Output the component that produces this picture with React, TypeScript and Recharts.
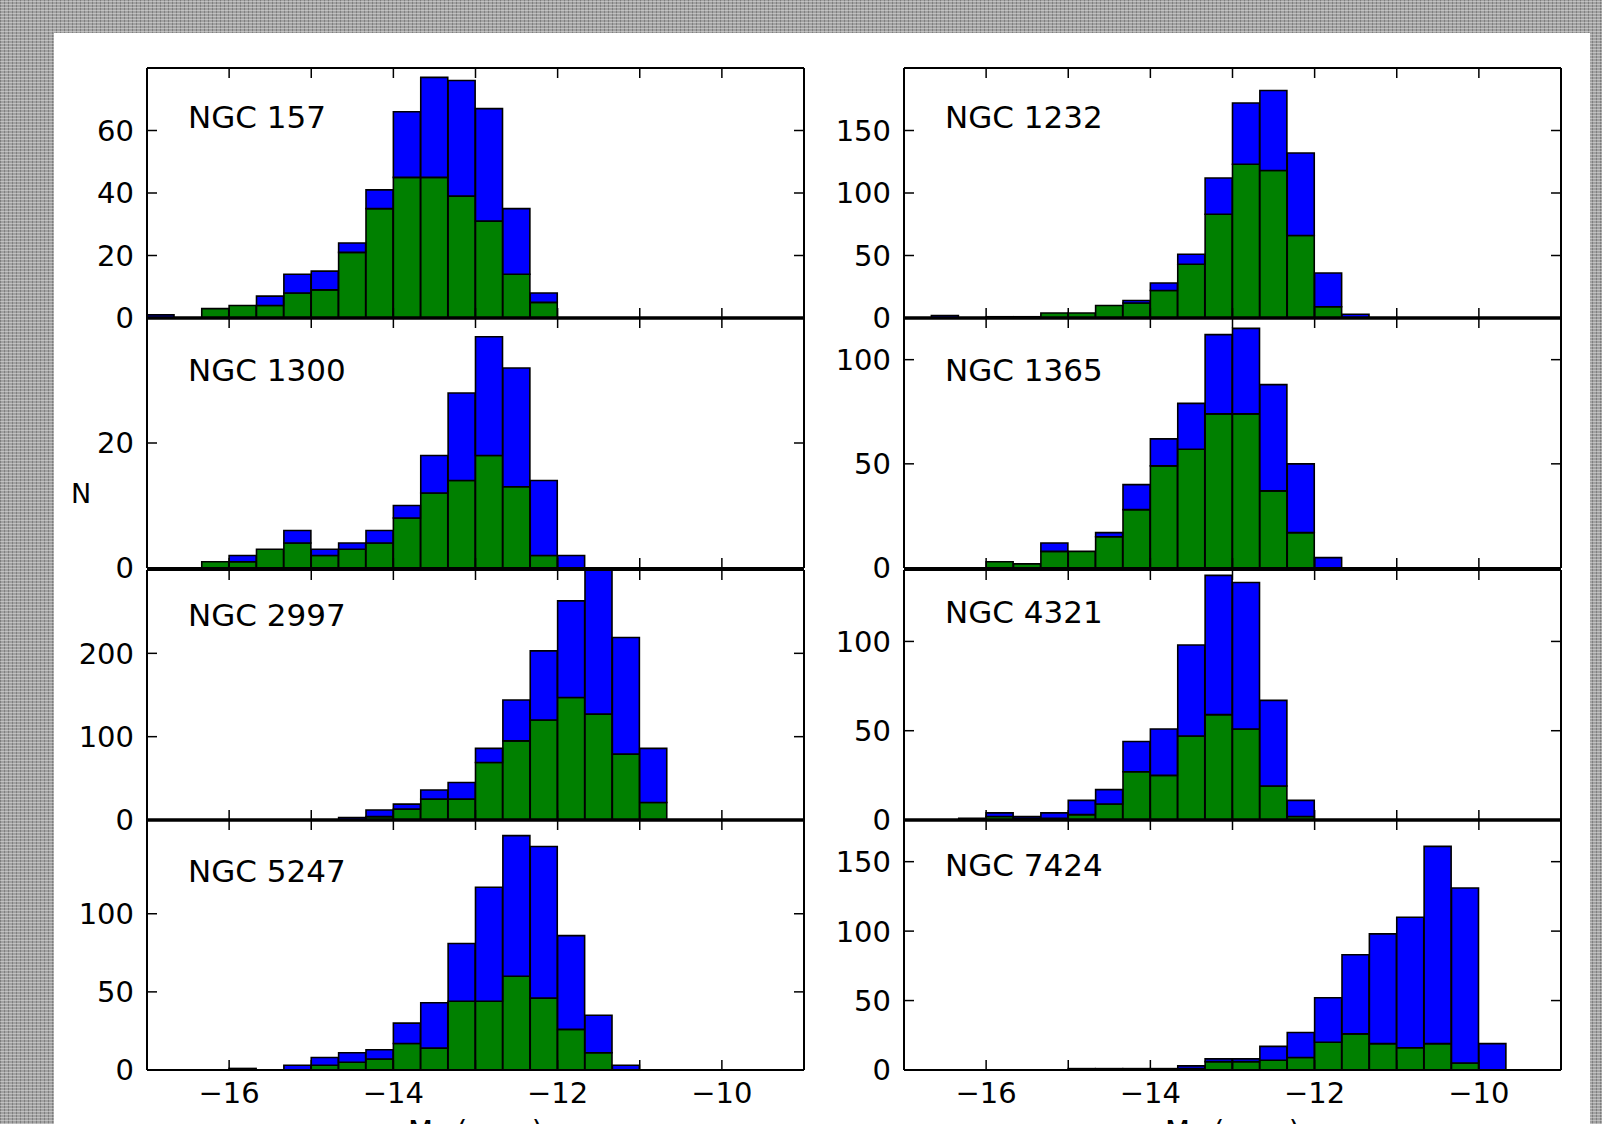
import { BarChart, Bar, XAxis, YAxis } from 'recharts';

// bin lower edges, 1/3 mag bins from -17 to -9
const BIN_LABELS = [
  '-17.00', '-16.67', '-16.33', '-16.00', '-15.67', '-15.33', '-15.00', '-14.67',
  '-14.33', '-14.00', '-13.67', '-13.33', '-13.00', '-12.67', '-12.33', '-12.00',
  '-11.67', '-11.33', '-11.00', '-10.67', '-10.33', '-10.00', '-9.67', '-9.33',
];

const X_LABELED = [-16, -14, -12, -10];

// blue = all clusters, green = subset
const NGC157_ALL = [1, 0, 3, 4, 7, 14, 15, 24, 41, 66, 77, 76, 67, 35, 8, 0, 0, 0, 0, 0, 0, 0, 0, 0];
const NGC157_SUB = [0, 0, 3, 4, 4, 8, 9, 21, 35, 45, 45, 39, 31, 14, 5, 0, 0, 0, 0, 0, 0, 0, 0, 0];

const NGC1232_ALL = [0, 2, 0, 1, 1, 4, 4, 10, 14, 28, 51, 112, 172, 182, 132, 36, 3, 0, 0, 0, 0, 0, 0, 0];
const NGC1232_SUB = [0, 0, 0, 1, 1, 4, 4, 10, 12, 22, 43, 83, 123, 118, 66, 9, 0, 0, 0, 0, 0, 0, 0, 0];

const NGC1300_ALL = [0, 0, 1, 2, 3, 6, 3, 4, 6, 10, 18, 28, 37, 32, 14, 2, 0, 0, 0, 0, 0, 0, 0, 0];
const NGC1300_SUB = [0, 0, 1, 1, 3, 4, 2, 3, 4, 8, 12, 14, 18, 13, 2, 0, 0, 0, 0, 0, 0, 0, 0, 0];

const NGC1365_ALL = [0, 0, 0, 3, 2, 12, 8, 17, 40, 62, 79, 112, 115, 88, 50, 5, 0, 0, 0, 0, 0, 0, 0, 0];
const NGC1365_SUB = [0, 0, 0, 3, 2, 8, 8, 15, 28, 49, 57, 74, 74, 37, 17, 0, 0, 0, 0, 0, 0, 0, 0, 0];

const NGC2997_ALL = [0, 0, 0, 0, 0, 0, 0, 3, 12, 19, 36, 45, 86, 144, 203, 263, 300, 219, 86, 0, 0, 0, 0, 0];
const NGC2997_SUB = [0, 0, 0, 0, 0, 0, 0, 0, 4, 13, 25, 25, 69, 95, 120, 147, 127, 79, 21, 0, 0, 0, 0, 0];

const NGC4321_ALL = [0, 0, 1, 4, 2, 4, 11, 17, 44, 51, 98, 137, 133, 67, 11, 0, 0, 0, 0, 0, 0, 0, 0, 0];
const NGC4321_SUB = [0, 0, 1, 2, 1, 1, 3, 9, 27, 25, 47, 59, 51, 19, 2, 0, 0, 0, 0, 0, 0, 0, 0, 0];

const NGC5247_ALL = [0, 0, 0, 1, 0, 3, 8, 11, 13, 30, 43, 81, 117, 150, 143, 86, 35, 3, 0, 0, 0, 0, 0, 0];
const NGC5247_SUB = [0, 0, 0, 0, 0, 0, 3, 5, 7, 17, 14, 44, 44, 60, 46, 26, 11, 0, 0, 0, 0, 0, 0, 0];

const NGC7424_ALL = [0, 0, 0, 0, 0, 0, 1, 1, 1, 1, 3, 8, 8, 17, 27, 52, 83, 98, 110, 161, 131, 19, 0, 0];
const NGC7424_SUB = [0, 0, 0, 0, 0, 0, 0, 0, 0, 0, 1, 6, 6, 7, 9, 20, 26, 19, 16, 19, 5, 0, 0, 0];

const PANELS = [
  { name: 'NGC 157', all: NGC157_ALL, sub: NGC157_SUB, yMax: 80, yTicks: [0, 20, 40, 60], col: 0, row: 0, labelY: 128 },
  { name: 'NGC 1232', all: NGC1232_ALL, sub: NGC1232_SUB, yMax: 200, yTicks: [0, 50, 100, 150], col: 1, row: 0, labelY: 128 },
  { name: 'NGC 1300', all: NGC1300_ALL, sub: NGC1300_SUB, yMax: 40, yTicks: [0, 20], col: 0, row: 1, labelY: 381 },
  { name: 'NGC 1365', all: NGC1365_ALL, sub: NGC1365_SUB, yMax: 120, yTicks: [0, 50, 100], col: 1, row: 1, labelY: 381 },
  { name: 'NGC 2997', all: NGC2997_ALL, sub: NGC2997_SUB, yMax: 300, yTicks: [0, 100, 200], col: 0, row: 2, labelY: 626 },
  { name: 'NGC 4321', all: NGC4321_ALL, sub: NGC4321_SUB, yMax: 140, yTicks: [0, 50, 100], col: 1, row: 2, labelY: 623 },
  { name: 'NGC 5247', all: NGC5247_ALL, sub: NGC5247_SUB, yMax: 160, yTicks: [0, 50, 100], col: 0, row: 3, labelY: 882 },
  { name: 'NGC 7424', all: NGC7424_ALL, sub: NGC7424_SUB, yMax: 180, yTicks: [0, 50, 100, 150], col: 1, row: 3, labelY: 876 },
];

const COL_X = [147, 904];
const ROW_Y = [68, 318, 570, 820];
const PLOT_W = 657;
const PLOT_H = 250;
const BIN_W = PLOT_W / BIN_LABELS.length;
// axis areas around the plot (axes own this space, chart margin is 0)
const AX_L = 110;
const AX_R = 10;
const AX_T = 10;
const AX_B = 50;

const FONT = '"DejaVu Sans", sans-serif';
const TICK_LEN = 10;

const fmt = (v: number) => (v < 0 ? '\u2212' + Math.abs(v) : String(v));

function LeftTick({ x, y, payload }: any) {
  return (
    <g>
      <line x1={x} y1={y} x2={x + TICK_LEN} y2={y} stroke="#000" strokeWidth={1.5} />
      <text x={x - 13} y={y} dy="0.36em" textAnchor="end" fontSize={29} fontFamily={FONT} fill="#000">
        {payload.value}
      </text>
    </g>
  );
}

function RightTick({ x, y }: any) {
  return <line x1={x - TICK_LEN} y1={y} x2={x} y2={y} stroke="#000" strokeWidth={1.5} />;
}

// ticks sit on the lower edge of every bin that starts at a whole magnitude
function makeBottomTick(showLabels: boolean) {
  return ({ x, y, payload }: any) => {
    const edge = Number(payload.value);
    if (Math.abs(edge - Math.round(edge)) > 0.01) return <g />;
    const mag = Math.round(edge);
    const xe = x - BIN_W / 2;
    return (
      <g>
        <line x1={xe} y1={y - TICK_LEN} x2={xe} y2={y} stroke="#000" strokeWidth={1.5} />
        <line x1={xe} y1={y - PLOT_H} x2={xe} y2={y - PLOT_H + TICK_LEN} stroke="#000" strokeWidth={1.5} />
        {showLabels && X_LABELED.includes(mag) ? (
          <text x={xe} y={y + 33} textAnchor="middle" fontSize={29} fontFamily={FONT} fill="#000">
            {fmt(mag)}
          </text>
        ) : null}
      </g>
    );
  };
}

function Panel({ p }: { p: (typeof PANELS)[number] }) {
  const rows = BIN_LABELS.map((bin, i) => ({ bin, green: p.sub[i], extra: p.all[i] - p.sub[i] }));
  const frame = { stroke: '#000', strokeWidth: 2 };
  // rows 1 and 3 share their bottom spine with the panel below, which reads as a heavier line
  const bottomFrame = { stroke: '#000', strokeWidth: p.row === 0 || p.row === 2 ? 3.5 : 2 };
  return (
    <div style={{ position: 'absolute', left: COL_X[p.col] - AX_L, top: ROW_Y[p.row] - AX_T }}>
      <BarChart
        width={PLOT_W + AX_L + AX_R}
        height={PLOT_H + AX_T + AX_B}
        data={rows}
        margin={{ top: 0, right: 0, bottom: 0, left: 0 }}
        barCategoryGap={0}
        barGap={0}
      >
        <XAxis
          xAxisId="cat"
          dataKey="bin"
          height={AX_B}
          interval={0}
          tickSize={0}
          tickMargin={0}
          tickLine={false}
          axisLine={bottomFrame}
          tick={makeBottomTick(p.row === 3)}
        />
        <XAxis
          xAxisId="top"
          orientation="top"
          type="number"
          domain={[-17, -9]}
          allowDataOverflow
          height={AX_T}
          tick={false}
          tickLine={false}
          axisLine={frame}
        />
        <YAxis
          yAxisId="left"
          type="number"
          domain={[0, p.yMax]}
          ticks={p.yTicks}
          allowDataOverflow
          width={AX_L}
          interval={0}
          tickSize={0}
          tickMargin={0}
          tickLine={false}
          axisLine={frame}
          tick={<LeftTick />}
        />
        <YAxis
          yAxisId="right"
          orientation="right"
          type="number"
          domain={[0, p.yMax]}
          ticks={p.yTicks}
          allowDataOverflow
          width={AX_R}
          interval={0}
          tickSize={0}
          tickMargin={0}
          tickLine={false}
          axisLine={frame}
          tick={<RightTick />}
        />
        <Bar
          xAxisId="cat"
          yAxisId="left"
          dataKey="green"
          stackId="s"
          fill="#008000"
          stroke="#000"
          strokeWidth={1.6}
          isAnimationActive={false}
        />
        <Bar
          xAxisId="cat"
          yAxisId="left"
          dataKey="extra"
          stackId="s"
          fill="#0000ff"
          stroke="#000"
          strokeWidth={1.6}
          isAnimationActive={false}
        />
      </BarChart>
    </div>
  );
}

export default function App() {
  return (
    <div
      style={{
        position: 'fixed',
        left: 0,
        top: 0,
        width: 1602,
        height: 1124,
        overflow: 'hidden',
        backgroundColor: '#a2a2a2',
        backgroundImage:
          'repeating-linear-gradient(0deg, rgba(255,255,255,0.35) 0px, rgba(255,255,255,0.35) 1px, transparent 1px, transparent 3px), repeating-linear-gradient(90deg, rgba(60,60,60,0.35) 0px, rgba(60,60,60,0.35) 1px, transparent 1px, transparent 4px)',
        fontFamily: FONT,
      }}
    >
      <div style={{ position: 'absolute', left: 54, top: 33, width: 1536, height: 1100, background: '#fff' }} />
      {PANELS.map((p) => (
        <Panel key={p.name} p={p} />
      ))}
      <svg
        width={1602}
        height={1124}
        style={{ position: 'absolute', left: 0, top: 0, pointerEvents: 'none' }}
        fontFamily={FONT}
      >
        {PANELS.map((p) => (
          <text key={p.name} x={COL_X[p.col] + 41} y={p.labelY} fontSize={31} fill="#000">
            {p.name}
          </text>
        ))}
        <text x={71} y={503} fontSize={27} fill="#000">
          N
        </text>
        {COL_X.map((cx) => (
          <text key={cx} x={cx + PLOT_W / 2} y={1141} fontSize={29} fill="#000" textAnchor="middle">
            <tspan>M</tspan>
            <tspan fontSize={20} dy={6}>
              V
            </tspan>
            <tspan dy={-6}> (mag)</tspan>
          </text>
        ))}
      </svg>
    </div>
  );
}
